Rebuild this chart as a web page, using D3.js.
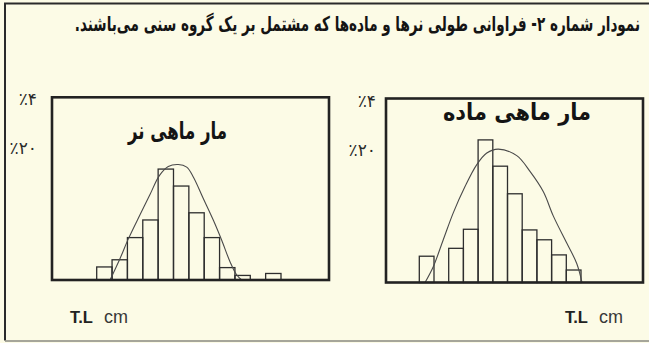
<!DOCTYPE html>
<html>
<head>
<meta charset="utf-8">
<script src="https://cdn.jsdelivr.net/npm/d3@7"></script>
<style>
  html, body { margin: 0; padding: 0; background: #fcfbe6; }
  svg { display: block; }
</style>
</head>
<body>
<svg id="chart" width="649" height="343"></svg>
<script>
// ---- text ----
const titleText = "نمودار شماره ۲- فراوانی طولی نرها و ماده‌ها که مشتمل بر یک گروه سنی می‌باشند.";
const panelTitles = ["مار ماهی نر", "مار ماهی ماده"];
const lengthLabel = ["T.L", "cm"];

// ---- y axis ticks (percent of fish) ----
const yTickValues = [28, 20];
const yTickLabels = ["٪۴", "٪۲۰"];

// ---- length-class frequencies (%), one value per class ----
const maleFreq   = [2.0, 3.1, 6.5, 9.2, 17.0, 14.4, 10.3, 6.5, 1.9, 0.7, 0, 1.0];
const femaleFreq = [4.0, 0, 5.2, 8.1, 21.7, 17.7, 13.5, 8.0, 6.5, 4.2, 1.9];

// ---- fitted curves: [class position, %] ----
const maleCurve = [
  [0.87, 0], [1.52, 3.3], [2.06, 6.3], [2.82, 10.0], [3.47, 13.1], [4.08, 16.0],
  [4.66, 17.4], [5.31, 17.7], [5.86, 17.3], [6.29, 15.8], [6.94, 12.5], [7.59, 9.2],
  [8.14, 6.1], [8.68, 2.8], [9.11, 0.8], [9.44, 0]
];
const femaleCurve = [
  [0.39, 0], [0.95, 2.4], [1.63, 6.5], [2.31, 10.6], [3.11, 14.6], [3.90, 17.9],
  [4.59, 19.7], [5.37, 20.3], [6.63, 19.3], [7.53, 16.9], [8.44, 13.8], [9.12, 10.1],
  [10.03, 6.0], [10.71, 2.9], [11.07, 0]
];

const svg = d3.select("#chart");
const ARABIC_FONT = "'DejaVu Sans', sans-serif";
const LATIN_FONT = "'Liberation Sans', Arial, sans-serif";

// shrink/grow a text element's font size so it spans the wanted width
function fitWidth(sel, width) {
  const node = sel.node();
  const fs = parseFloat(sel.attr("font-size"));
  const w = node.getComputedTextLength();
  if (w > 0) sel.attr("font-size", (fs * width / w).toFixed(2));
}

// Arabic text set at a given width, stretched vertically by sy about its baseline
function stretchedText(parent, x, y, sy, width, anchor, str) {
  const g = parent.append("g").attr("transform", `translate(${x},${y}) scale(1,${sy})`);
  const t = g.append("text")
    .attr("x", 0).attr("y", 0)
    .attr("direction", "rtl").attr("text-anchor", anchor)
    .attr("font-family", ARABIC_FONT).attr("font-weight", "bold")
    .attr("font-size", 15).attr("fill", "#141414")
    .text(str);
  fitWidth(t, width);
  return t;
}

// page background and outer border
svg.append("rect").attr("x", 0).attr("y", 0).attr("width", 649).attr("height", 343)
  .attr("fill", "#fcfbe6");
svg.append("path")
  .attr("d", "M649,3.5 H5 V340.5")
  .attr("fill", "none").attr("stroke", "#2a2a2a").attr("stroke-width", 2);
svg.append("line")
  .attr("x1", 5).attr("x2", 649).attr("y1", 341).attr("y2", 341)
  .attr("stroke", "#8a8a80").attr("stroke-width", 1.5);

// heading
stretchedText(svg, 640, 31, 1.5, 565, "start", titleText);

const panels = [
  {
    freq: maleFreq, curve: maleCurve, name: panelTitles[0],
    frame: { x0: 52, x1: 329, y0: 97.3, y1: 280 },
    binRange: [96.7, 281],
    titlePos: [177.5, 139], titleW: 99, titleSy: 1.45,
    tickPad: 15, labelX: 70
  },
  {
    freq: femaleFreq, curve: femaleCurve, name: panelTitles[1],
    frame: { x0: 386, x1: 643, y0: 98.5, y1: 282.5 },
    binRange: [419.3, 581],
    titlePos: [517, 120], titleW: 148, titleSy: 1.1,
    tickPad: 10, labelX: 565
  }
];

panels.forEach(p => {
  const g = svg.append("g");
  const x = d3.scaleLinear().domain([0, p.freq.length]).range(p.binRange);
  const y = d3.scaleLinear().domain([0, 28]).range([p.frame.y1, p.frame.y0]);

  // histogram bars
  g.append("g").selectAll("rect")
    .data(p.freq.map((v, i) => ({ v, i })).filter(d => d.v > 0))
    .join("rect")
    .attr("x", d => x(d.i))
    .attr("y", d => y(d.v))
    .attr("width", d => x(d.i + 1) - x(d.i))
    .attr("height", d => y(0) - y(d.v))
    .attr("fill", "none")
    .attr("stroke", "#2e2e2e")
    .attr("stroke-width", 1.3);

  // fitted curve
  const line = d3.line()
    .x(d => x(d[0])).y(d => y(d[1]))
    .curve(d3.curveCatmullRom.alpha(0.5));
  g.append("path")
    .attr("d", line(p.curve))
    .attr("fill", "none")
    .attr("stroke", "#4a4a4a")
    .attr("stroke-width", 1.1);

  // frame
  g.append("rect")
    .attr("x", p.frame.x0).attr("y", p.frame.y0)
    .attr("width", p.frame.x1 - p.frame.x0)
    .attr("height", p.frame.y1 - p.frame.y0)
    .attr("fill", "none").attr("stroke", "#222").attr("stroke-width", 2.6);

  // y axis labels
  const axis = d3.axisLeft(y)
    .tickValues(yTickValues)
    .tickSize(0)
    .tickPadding(p.tickPad)
    .tickFormat((d, i) => yTickLabels[i]);
  const ag = g.append("g").attr("transform", `translate(${p.frame.x0},0)`).call(axis);
  ag.select(".domain").remove();
  ag.attr("font-size", null).attr("font-family", null);
  ag.selectAll("text")
    .style("font-family", ARABIC_FONT)
    .style("font-size", "17px")
    .attr("fill", "#2a2a2a")
    .attr("dy", (d, i) => i === 0 ? "0.45em" : "0.25em");

  // panel caption
  stretchedText(g, p.titlePos[0], p.titlePos[1], p.titleSy, p.titleW, "middle", p.name);

  // length label
  const lt = g.append("text")
    .attr("x", p.labelX).attr("y", 323)
    .attr("font-family", LATIN_FONT).attr("font-size", 16.5).attr("fill", "#222");
  lt.append("tspan").attr("font-weight", "bold").text(lengthLabel[0]);
  lt.append("tspan").attr("dx", 6).attr("font-size", 18).attr("fill", "#383838").text(" " + lengthLabel[1]);
});
</script>
</body>
</html>
